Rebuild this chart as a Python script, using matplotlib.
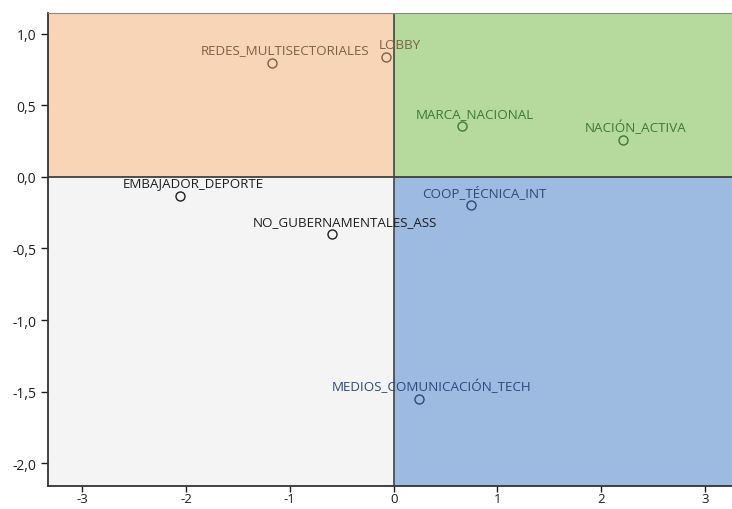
import matplotlib
matplotlib.use("Agg")
import matplotlib.pyplot as plt
from matplotlib.ticker import FuncFormatter

# component scores
names = ["REDES_MULTISECTORIALES", "LOBBY", "MARCA_NACIONAL", "NACIÓN_ACTIVA",
         "COOP_TÉCNICA_INT", "EMBAJADOR_DEPORTE", "NO_GUBERNAMENTALES_ASS",
         "MEDIOS_COMUNICACIÓN_TECH"]
x = [-1.17, -0.07, 0.66, 2.21, 0.75, -2.06, -0.59, 0.24]
y = [0.80, 0.835, 0.355, 0.26, -0.195, -0.13, -0.40, -1.55]

xticks = [-3, -2, -1, 0, 1, 2, 3]
yticks = [1.0, 0.5, 0.0, -0.5, -1.0, -1.5, -2.0]

x_min, x_max = -3.33, 3.26
y_min, y_max = -2.16, 1.146

# quadrant fills and label colours
fill = {"tl": "#f9d5b7", "tr": "#b6d99e", "bl": "#f4f4f4", "br": "#9dbae1"}
txt = {"tl": "#7e6047", "tr": "#3c7a33", "bl": "#1e1e1e", "br": "#2b4a7a"}

def quad(a, b):
    if b >= 0:
        return "tr" if a >= 0 else "tl"
    return "br" if a >= 0 else "bl"

plt.rcParams['font.family'] = ['Open Sans', 'DejaVu Sans']

fig = plt.figure(figsize=(7.32, 5.10), dpi=100)
ax = fig.add_axes([48/732, 1 - 487/510, 1 - 48/732, (487 - 14)/510])

ax.axvspan(x_min, 0, ymin=0, ymax=1, color=fill["bl"], lw=0, zorder=0)
ax.fill_between([x_min, 0], 0, y_max, color=fill["tl"], lw=0, zorder=0.5)
ax.fill_between([0, x_max], 0, y_max, color=fill["tr"], lw=0, zorder=0.5)
ax.fill_between([0, x_max], y_min, 0, color=fill["br"], lw=0, zorder=0.5)

ax.axhline(0, color="#333333", lw=1.2, zorder=1)
ax.axvline(0, color="#444444", lw=1.2, zorder=1)

for n, a, b in zip(names, x, y):
    q = quad(a, b)
    ax.plot(a, b, marker="o", ms=6.5, mfc="none", mec=txt[q], mew=1.0, zorder=3)
    ax.annotate(n, (a, b), xytext=(13, 13), textcoords="offset pixels",
                ha="center", va="center", fontsize=9.6, color=txt[q], zorder=4)

ax.set_xlim(x_min, x_max)
ax.set_ylim(y_min, y_max)
ax.set_xticks(xticks)
ax.set_yticks(yticks)
ax.xaxis.set_major_formatter(FuncFormatter(lambda v, p: "%d" % v))
ax.yaxis.set_major_formatter(FuncFormatter(lambda v, p: ("%.1f" % v).replace(".", ",")))
ax.tick_params(direction="out", length=5, width=1, labelsize=10, colors="#1e1e1e")
ax.tick_params(axis="x", length=4, pad=0.5, labelsize=9.5)

ax.spines["right"].set_visible(False)
ax.spines["top"].set_color("#888888")
ax.spines["left"].set_color("#333333")
ax.spines["bottom"].set_color("#333333")
ax.spines["left"].set_linewidth(1.3)
ax.spines["bottom"].set_linewidth(1.3)

fig.savefig("out.png", dpi=100)
